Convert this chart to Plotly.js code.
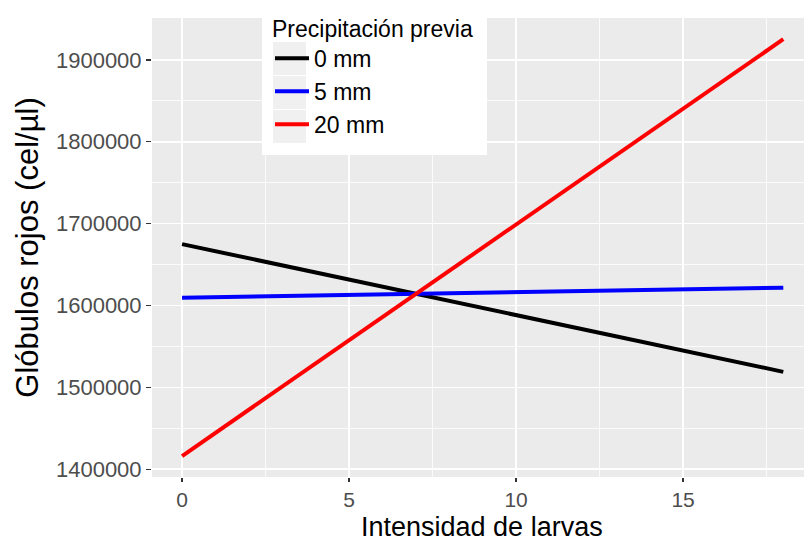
<!DOCTYPE html>
<html>
<head>
<meta charset="utf-8">
<script src="https://cdn.plot.ly/plotly-3.0.1.min.js"></script>
<style>
  html, body { margin: 0; padding: 0; background: #ffffff; }
  #chart { width: 804px; height: 543px; }
</style>
</head>
<body>
<div id="chart"></div>
<script>
// Fitted red blood cell counts against larval intensity, one line per previous rainfall level
const intensidad = [0, 18];
const serie0mm = [1675000, 1519000];
const serie5mm = [1609600, 1621800];
const serie20mm = [1416200, 1925200];
const nombres = ['0 mm', '5 mm', '20 mm'];
const colores = ['#000000', '#0000FF', '#FF0000'];
const xTicks = [0, 5, 10, 15];
const yTicks = [1400000, 1500000, 1600000, 1700000, 1800000, 1900000];
const tituloX = 'Intensidad de larvas';
const tituloY = 'Glóbulos rojos (cel/µl)';

const FONT = 'Liberation Sans, Arial, sans-serif';
const W = 804, H = 543;
const M = { l: 152, r: 0, t: 18, b: 66 };
const plotW = W - M.l - M.r, plotH = H - M.t - M.b;
// pixel -> paper helpers for the legend background and the x title
const px = v => (v - M.l) / plotW;
const py = v => (H - M.b - v) / plotH;

const traces = [serie0mm, serie5mm, serie20mm].map((ys, i) => ({
  type: 'scatter',
  mode: 'lines',
  x: intensidad,
  y: ys,
  name: nombres[i],
  legendgroup: 'g' + i,
  line: { color: colores[i], width: 4 },
  hoverinfo: 'skip'
}));

// white legend panel and grey key squares (ggplot style)
const shapes = [
  { type: 'rect', xref: 'paper', yref: 'paper', layer: 'above',
    x0: px(262), x1: px(487), y0: py(155), y1: py(-2),
    fillcolor: '#ffffff', line: { width: 0 } }
];
[[42, 75], [76, 109], [110, 143]].forEach(([a, b]) => {
  shapes.push({ type: 'rect', xref: 'paper', yref: 'paper', layer: 'above',
    x0: px(273), x1: px(306), y0: py(b), y1: py(a),
    fillcolor: '#F0F0F0', line: { width: 0 } });
});

const layout = {
  width: W,
  height: H,
  margin: { l: M.l, r: M.r, t: M.t, b: M.b, pad: 0 },
  paper_bgcolor: '#ffffff',
  plot_bgcolor: '#EBEBEB',
  font: { family: FONT, color: '#000000' },
  showlegend: true,
  shapes: shapes,
  annotations: [
    // x-axis title, placed below the tick labels
    { text: tituloX, xref: 'paper', yref: 'paper', x: px(482), y: py(527),
      xanchor: 'center', yanchor: 'middle', showarrow: false, borderpad: 0,
      font: { family: FONT, size: 27, color: '#000000' } }
  ],
  legend: {
    x: px(270),
    xanchor: 'left',
    y: py(7),
    yanchor: 'top',
    bgcolor: 'rgba(0,0,0,0)',
    borderwidth: 0,
    font: { family: FONT, size: 23, color: '#000000' },
    title: { text: 'Precipitación previa', font: { family: FONT, size: 23, color: '#000000' } },
    tracegroupgap: 0,
    itemwidth: 34
  },
  xaxis: {
    range: [-0.9, 18.62],
    tickvals: xTicks,
    ticktext: xTicks.map(String),
    ticks: 'outside',
    ticklen: 4,
    tickwidth: 1.5,
    tickcolor: '#333333',
    tickfont: { family: FONT, size: 21, color: '#4D4D4D' },
    showgrid: true,
    gridcolor: '#ffffff',
    gridwidth: 1.6,
    minor: { dtick: 2.5, tick0: 0, showgrid: true, gridcolor: '#ffffff', gridwidth: 0.8, ticks: '' },
    zeroline: false,
    showline: false,
    automargin: false
  },
  yaxis: {
    range: [1390600, 1951100],
    tickvals: yTicks,
    tickformat: 'd',
    ticks: 'outside',
    ticklen: 5,
    tickwidth: 1.5,
    tickcolor: '#333333',
    tickfont: { family: FONT, size: 22, color: '#4D4D4D' },
    showgrid: true,
    gridcolor: '#ffffff',
    gridwidth: 1.6,
    minor: { dtick: 50000, tick0: 0, showgrid: true, gridcolor: '#ffffff', gridwidth: 0.8, ticks: '' },
    zeroline: false,
    showline: false,
    automargin: false,
    title: { text: tituloY, font: { family: FONT, size: 31, color: '#000000' }, standoff: 8 }
  }
};

Plotly.newPlot('chart', traces, layout, { staticPlot: true, displayModeBar: false });
</script>
</body>
</html>
